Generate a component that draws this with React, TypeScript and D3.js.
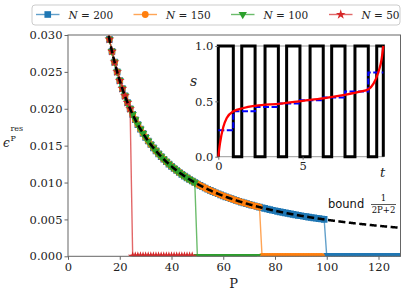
import React, { useEffect, useRef } from 'react';
import * as d3 from 'd3';

// main panel: residual error vs P for several system sizes N
const seriesN = [200, 150, 100, 50];
const seriesColor = ['#1f77b4', '#ff7f0e', '#2ca02c', '#d62728'];
const seriesMarker = ['square', 'circle', 'triangle', 'star'];
// first P where the residual drops to zero, and last P computed
const zeroFromP = [100, 75, 50, 25];
const lastP = [130, 98, 73, 48];

const xTicks = [0, 20, 40, 60, 80, 100, 120];
const yTicks = [0, 0.005, 0.01, 0.015, 0.02, 0.025, 0.03];
const pMax = 128.5;
const epsMax = 0.03;

// inset: bang-bang protocol, its piecewise schedule and the smooth schedule
const pulseOn = [0.0, 1.39, 2.77, 4.05, 5.44, 6.72, 8.1, 9.39];
const pulseOff = [0.89, 2.18, 3.56, 4.84, 6.22, 7.51, 8.89, 9.78];
const stepLevel = [0.24, 0.41, 0.45, 0.48, 0.51, 0.535, 0.59, 0.76];
const smoothT = [0, 0.1, 0.3, 0.5, 0.9, 1.5, 2.2, 3.7, 5.0, 6.2, 7.4, 8.4, 8.9, 9.2, 9.5, 9.68, 9.78];
const smoothS = [0, 0.12, 0.27, 0.35, 0.41, 0.44, 0.46, 0.48, 0.505, 0.527, 0.557, 0.587, 0.61, 0.66, 0.77, 0.88, 1.0];
const insetXTicks = [0, 5];
const insetYTicks = [0, 0.5, 1];
const tMax = 9.78;

// the data sit on the analytic bound 1/(2P+2) until they hit zero
const bound = (p: number) => 1 / (2 * p + 2);

const serif = '"DejaVu Serif", serif';

function markerPath(kind: string) {
  if (kind === 'square') return d3.symbol(d3.symbolSquare, 44)();
  if (kind === 'circle') return d3.symbol(d3.symbolCircle, 36)();
  if (kind === 'triangle') return d3.symbol(d3.symbolTriangle, 30)();
  return d3.symbol(d3.symbolStar, 30)();
}

function App() {
  const svgRef = useRef<SVGSVGElement>(null);

  useEffect(() => {
    const svg = d3.select(svgRef.current);
    svg.selectAll('*').remove();

    const x = d3.scaleLinear().domain([0, pMax]).range([68, 400.5]);
    const y = d3.scaleLinear().domain([0, epsMax]).range([256.3, 35]);

    svg.append('defs').append('clipPath').attr('id', 'mainclip')
      .append('rect')
      .attr('x', x(0)).attr('y', y(epsMax))
      .attr('width', x(pMax) - x(0)).attr('height', y(0) - y(epsMax));

    const plot = svg.append('g').attr('clip-path', 'url(#mainclip)');

    seriesN.forEach((n, i) => {
      const pts = d3.range(1, lastP[i] + 1).map(p => ({ p, e: p < zeroFromP[i] ? bound(p) : 0 }));
      const line = d3.line<{ p: number; e: number }>().x(d => x(d.p)).y(d => y(d.e));
      plot.append('path')
        .attr('d', line(pts))
        .attr('fill', 'none')
        .attr('stroke', seriesColor[i])
        .attr('stroke-opacity', 0.7)
        .attr('stroke-width', 1.4);
      const rot = seriesMarker[i] === 'triangle' ? ' rotate(180)' : '';
      plot.append('g').selectAll('path')
        .data(pts.filter(d => d.e <= epsMax + 0.002))
        .join('path')
        .attr('d', markerPath(seriesMarker[i]))
        .attr('transform', d => `translate(${x(d.p)},${y(d.e)})${rot}`)
        .attr('fill', seriesColor[i]);
    });

    const boundPts = d3.range(15, pMax + 1, 0.25);
    plot.append('path')
      .attr('d', d3.line<number>().x(p => x(p)).y(p => y(bound(p)))(boundPts))
      .attr('fill', 'none')
      .attr('stroke', '#000')
      .attr('stroke-width', 2.5)
      .attr('stroke-dasharray', '7,3.5');

    // axes frame
    const spine = '#666';
    svg.append('rect')
      .attr('x', x(0)).attr('y', y(epsMax))
      .attr('width', x(pMax) - x(0)).attr('height', y(0) - y(epsMax))
      .attr('fill', 'none').attr('stroke', spine).attr('stroke-width', 1);

    const xg = svg.append('g').attr('transform', `translate(0,${y(0)})`)
      .call(d3.axisBottom(x).tickValues(xTicks).tickSize(3.5).tickPadding(3).tickFormat(d3.format('d')));
    const yg = svg.append('g').attr('transform', `translate(${x(0)},0)`)
      .call(d3.axisLeft(y).tickValues(yTicks).tickSize(3.5).tickPadding(2).tickFormat(d3.format('.3f')));
    [xg, yg].forEach(g => {
      g.select('.domain').remove();
      g.selectAll('line').attr('stroke', spine);
      g.selectAll('text').attr('font-family', serif).attr('font-size', 11.5).attr('fill', '#222');
    });

    svg.append('text').attr('x', x(64)).attr('y', 288).attr('text-anchor', 'middle')
      .attr('font-family', serif).attr('font-size', 13).attr('fill', '#222').text('P');

    const yl = svg.append('g').attr('fill', '#222');
    yl.append('text').attr('x', 3).attr('y', 146.7).attr('font-family', serif)
      .attr('font-style', 'italic').attr('font-size', 12).text('ϵ');
    yl.append('text').attr('x', 10.5).attr('y', 130.5).attr('font-family', serif)
      .attr('font-size', 8).text('res');
    yl.append('text').attr('x', 10.5).attr('y', 140.5).attr('font-family', serif)
      .attr('font-size', 8).text('P');

    // bound label
    svg.append('text').attr('x', 328).attr('y', 208).attr('font-family', '"DejaVu Sans", sans-serif')
      .attr('font-size', 11.5).attr('fill', '#111').text('bound');
    svg.append('text').attr('x', 383.5).attr('y', 200.5).attr('text-anchor', 'middle')
      .attr('font-family', serif).attr('font-size', 8.5).attr('fill', '#111').text('1');
    svg.append('line').attr('x1', 371).attr('x2', 396).attr('y1', 204.5).attr('y2', 204.5)
      .attr('stroke', '#111').attr('stroke-width', 0.7);
    svg.append('text').attr('x', 383.5).attr('y', 212.7).attr('text-anchor', 'middle')
      .attr('font-family', serif).attr('font-size', 8.5).attr('fill', '#111').text('2P+2');

    // inset
    const xi = d3.scaleLinear().domain([0, tMax]).range([218.3, 383.3]);
    const yi = d3.scaleLinear().domain([0, 1]).range([156.7, 46]);
    const inset = svg.append('g');
    inset.append('rect')
      .attr('x', xi(0)).attr('y', yi(1)).attr('width', xi(tMax) - xi(0)).attr('height', yi(0) - yi(1))
      .attr('fill', '#fff').attr('stroke', '#999').attr('stroke-width', 1);

    const wave: [number, number][] = [];
    pulseOn.forEach((on, i) => {
      wave.push([on, 0], [on, 1], [pulseOff[i], 1], [pulseOff[i], 0]);
    });
    const ln = d3.line<[number, number]>().x(d => xi(d[0])).y(d => yi(d[1]));
    inset.append('path').attr('d', ln(wave)).attr('fill', 'none')
      .attr('stroke', '#000').attr('stroke-width', 3).attr('stroke-linejoin', 'miter');

    const edges = [0, ...pulseOff];
    const steps: [number, number][] = stepLevel.map((s, i) => [edges[i], s]);
    steps.push([tMax, stepLevel[stepLevel.length - 1]]);
    inset.append('path').attr('d', ln.curve(d3.curveStepAfter)(steps)).attr('fill', 'none')
      .attr('stroke', '#0000ff').attr('stroke-width', 2).attr('stroke-dasharray', '6,2.5');

    const smooth: [number, number][] = smoothT.map((t, i) => [t, smoothS[i]]);
    inset.append('path').attr('d', d3.line<[number, number]>().x(d => xi(d[0])).y(d => yi(d[1]))
      .curve(d3.curveMonotoneX)(smooth))
      .attr('fill', 'none').attr('stroke', '#ff0000').attr('stroke-width', 2.3);

    const ixg = inset.append('g').attr('transform', `translate(0,${yi(0)})`)
      .call(d3.axisBottom(xi).tickValues(insetXTicks).tickSize(3).tickPadding(2).tickFormat(d3.format('d')));
    const iyg = inset.append('g').attr('transform', `translate(${xi(0)},0)`)
      .call(d3.axisLeft(yi).tickValues(insetYTicks).tickSize(3).tickPadding(2).tickFormat(d3.format('.1f')));
    [ixg, iyg].forEach(g => {
      g.select('.domain').remove();
      g.selectAll('line').attr('stroke', spine);
      g.selectAll('text').attr('font-family', serif).attr('font-size', 11.5).attr('fill', '#222');
    });
    inset.append('text').attr('x', 190).attr('y', 86).attr('font-family', serif)
      .attr('font-style', 'italic').attr('font-size', 14).attr('fill', '#222').text('s');
    inset.append('text').attr('x', 380).attr('y', 177).attr('font-family', serif)
      .attr('font-style', 'italic').attr('font-size', 13).attr('fill', '#222').text('t');

    // legend
    const leg = svg.append('g');
    leg.append('rect').attr('x', 32).attr('y', 5).attr('width', 368).attr('height', 20).attr('rx', 3)
      .attr('fill', '#fff').attr('fill-opacity', 0.8).attr('stroke', '#ccc').attr('stroke-width', 1);
    const legX = [36, 133.5, 231, 329];
    seriesN.forEach((n, i) => {
      const g = leg.append('g').attr('transform', `translate(${legX[i]},14.5)`);
      g.append('line').attr('x1', 0).attr('x2', 23.5).attr('stroke', seriesColor[i])
        .attr('stroke-opacity', 0.7).attr('stroke-width', 1.4);
      const rot = seriesMarker[i] === 'triangle' ? ' rotate(180)' : '';
      g.append('path').attr('d', markerPath(seriesMarker[i]))
        .attr('transform', `translate(11.75,0)${rot}`).attr('fill', seriesColor[i]);
      const t = g.append('text').attr('x', 32.5).attr('y', 4).attr('font-family', serif)
        .attr('font-size', 10.5).attr('fill', '#222');
      t.append('tspan').attr('font-style', 'italic').text('N');
      t.append('tspan').text(` = ${n}`);
    });
  }, []);

  return (
    <svg ref={svgRef} width={409} height={298}
      style={{ position: 'absolute', left: 0, top: 0, background: '#fff' }} />
  );
}

export default App;
